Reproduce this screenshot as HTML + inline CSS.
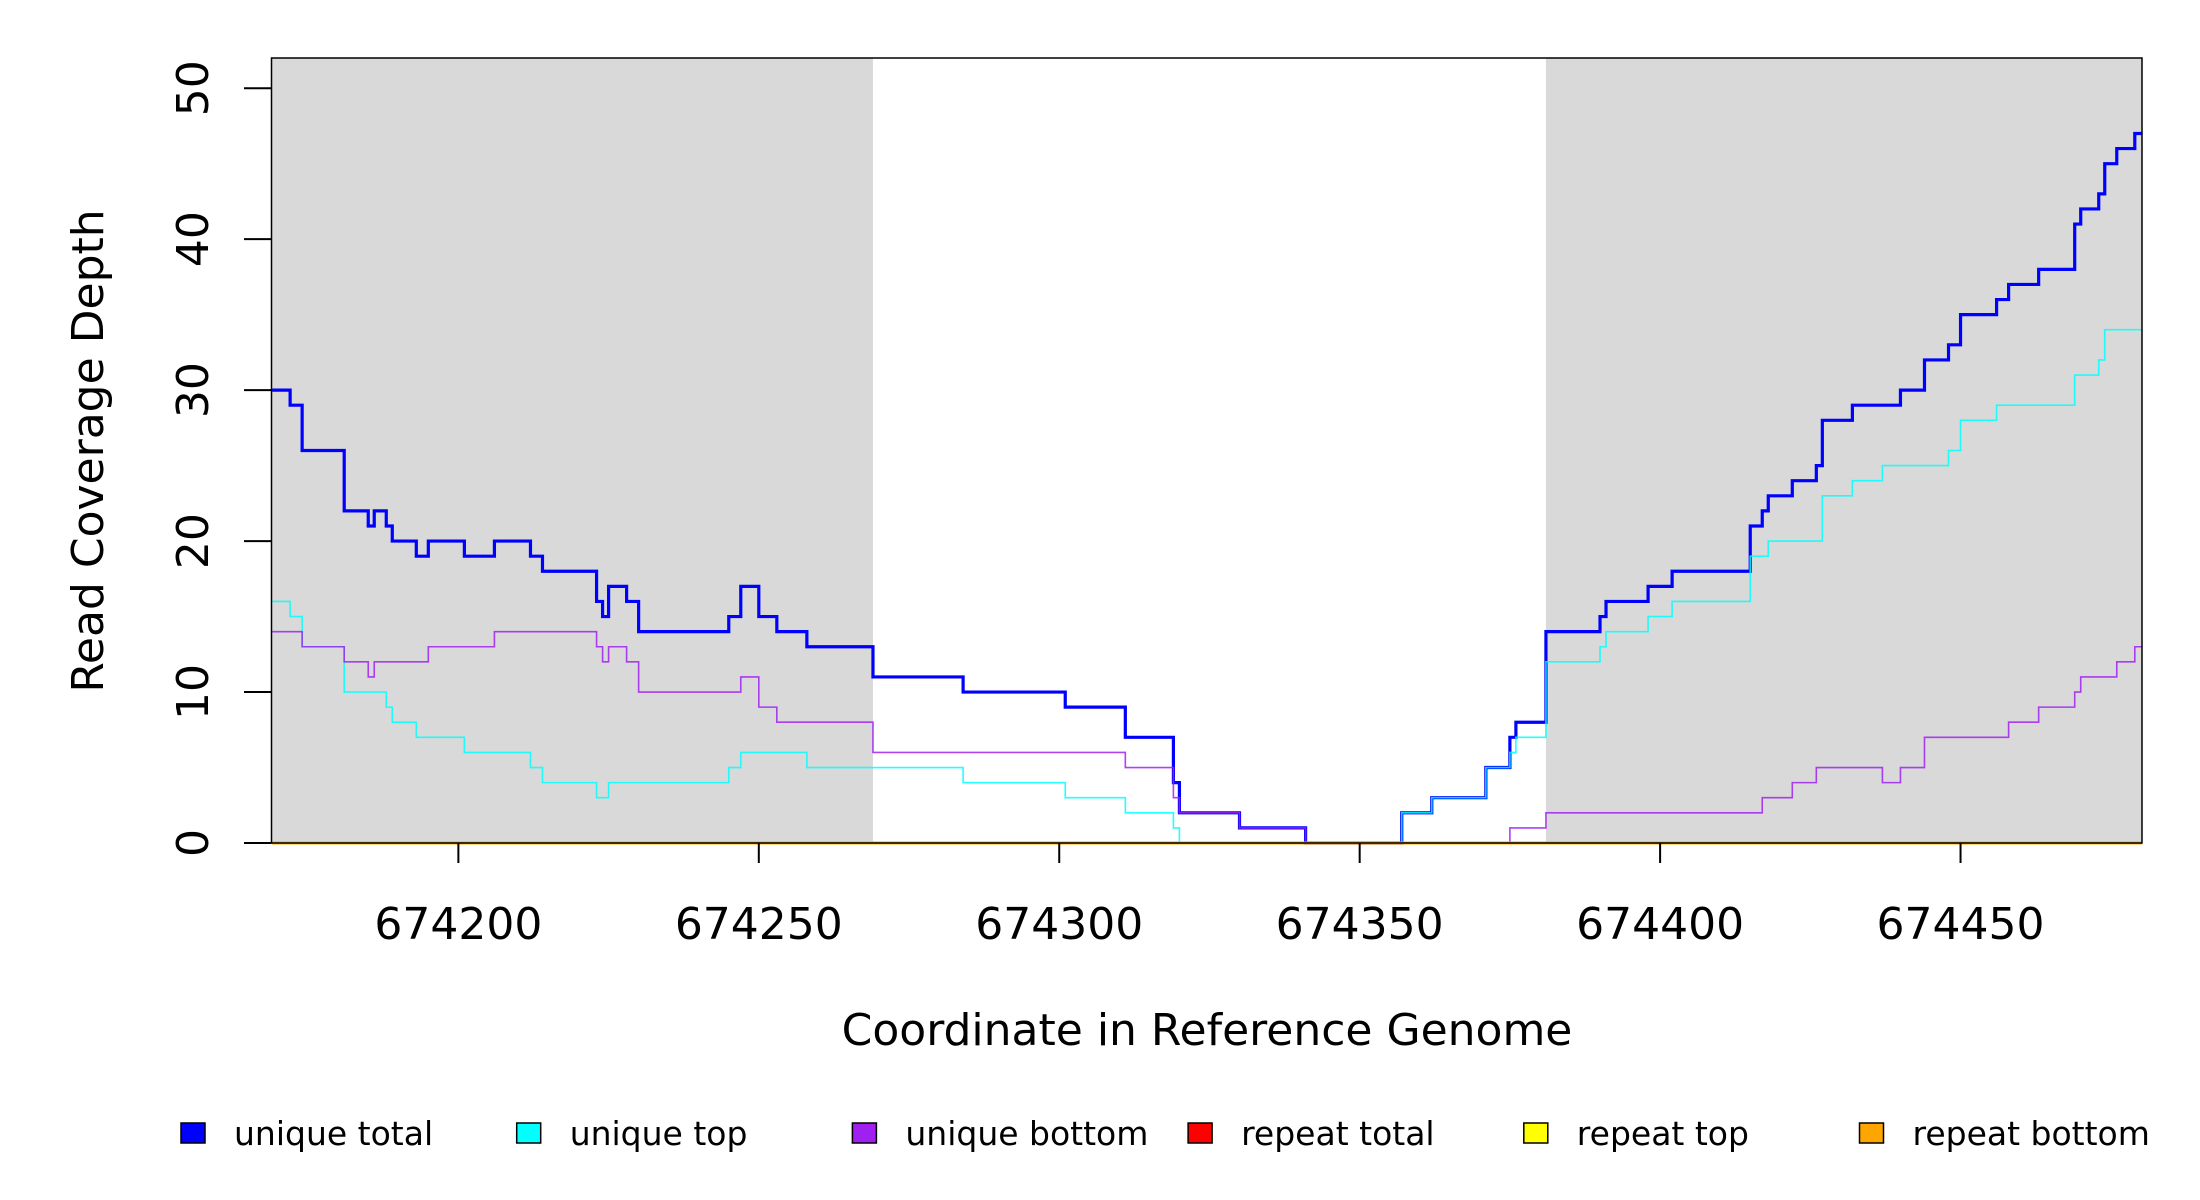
<!DOCTYPE html>
<html><head><meta charset="utf-8"><style>
html,body{margin:0;padding:0;background:#fff;}
svg{display:block;font-family:"DejaVu Sans","Liberation Sans",sans-serif;}
</style></head><body>
<svg id="chart" width="2200" height="1200" viewBox="0 0 2200 1200" xmlns="http://www.w3.org/2000/svg">
<rect x="0" y="0" width="2200" height="1200" fill="#fff"/>
<g id="shade"></g>
<g id="series"></g>
<rect x="271.5" y="58" width="1870.5" height="785" fill="none" stroke="#000" stroke-width="1.5"/>
<g id="xaxis"></g>
<g id="yaxis"></g>
<text x="1207" y="1045" font-size="44" text-anchor="middle">Coordinate in Reference Genome</text>
<text transform="translate(103,451) rotate(-90)" font-size="44" text-anchor="middle">Read Coverage Depth</text>
<g id="legend"></g>
</svg>
<script>
const xDomain = [674168.9, 674480.2];
const yDomain = [0, 52];
const shadeRegions = [[674168.9, 674269], [674381, 674480.2]];
const xTicks = [674200, 674250, 674300, 674350, 674400, 674450];
const yTicks = [0, 10, 20, 30, 40, 50];
const uniqueTotal = [[674169,30],[674172,29],[674174,26],[674181,22],[674185,21],[674186,22],[674188,21],[674189,20],[674193,19],[674195,20],[674201,19],[674206,20],[674212,19],[674214,18],[674223,16],[674224,15],[674225,17],[674228,16],[674230,14],[674245,15],[674247,17],[674250,15],[674253,14],[674258,13],[674269,11],[674284,10],[674301,9],[674311,7],[674319,4],[674320,2],[674330,1],[674341,0],[674357,2],[674362,3],[674371,5],[674375,7],[674376,8],[674381,14],[674390,15],[674391,16],[674398,17],[674402,18],[674415,21],[674417,22],[674418,23],[674422,24],[674426,25],[674427,28],[674432,29],[674440,30],[674444,32],[674448,33],[674450,35],[674456,36],[674458,37],[674463,38],[674469,41],[674470,42],[674473,43],[674474,45],[674476,46],[674479,47],[674480.2,47]];
const uniqueTop = [[674169,16],[674172,15],[674174,13],[674181,10],[674188,9],[674189,8],[674193,7],[674201,6],[674212,5],[674214,4],[674223,3],[674225,4],[674245,5],[674247,6],[674258,5],[674284,4],[674301,3],[674311,2],[674319,1],[674320,0],[674357,2],[674362,3],[674371,5],[674375,6],[674376,7],[674381,12],[674390,13],[674391,14],[674398,15],[674402,16],[674415,19],[674418,20],[674427,23],[674432,24],[674437,25],[674448,26],[674450,28],[674456,29],[674469,31],[674473,32],[674474,34],[674480.2,34]];
const uniqueBottom = [[674169,14],[674174,13],[674181,12],[674185,11],[674186,12],[674195,13],[674206,14],[674223,13],[674224,12],[674225,13],[674228,12],[674230,10],[674247,11],[674250,9],[674253,8],[674269,6],[674311,5],[674319,3],[674320,2],[674330,1],[674341,0],[674375,1],[674381,2],[674417,3],[674422,4],[674426,5],[674437,4],[674440,5],[674444,7],[674458,8],[674463,9],[674469,10],[674470,11],[674476,12],[674479,13],[674480.2,13]];
const repeatTotal = [[674169,0],[674480.2,0]];
const repeatTop = [[674169,0],[674480.2,0]];
const repeatBottom = [[674169,0],[674480.2,0]];
const legendLabels = ["unique total","unique top","unique bottom","repeat total","repeat top","repeat bottom"];
const legendColors = ["#0000ff","#00ffff","#a020f0","#ff0000","#ffff00","#ffa500"];

const PX0 = 271.5, PX1 = 2142, PY0 = 843, PY1 = 58;
function sx(v){ return PX0 + (v - xDomain[0]) / (xDomain[1] - xDomain[0]) * (PX1 - PX0); }
function sy(v){ return PY0 - (v - yDomain[0]) / (yDomain[1] - yDomain[0]) * (PY0 - PY1); }
const NS = "http://www.w3.org/2000/svg";
function mk(tag, attrs, parent){ const e = document.createElementNS(NS, tag); for (const k in attrs) e.setAttribute(k, attrs[k]); parent.appendChild(e); return e; }

const shade = document.getElementById('shade');
shadeRegions.forEach(function(r){
  const e = mk('rect', {x: sx(r[0]), y: PY1, width: sx(r[1]) - sx(r[0]), height: PY0 - PY1, fill: '#d9d9d9'}, shade);
  
  
});

const seriesG = document.getElementById('series');
function stepPath(d){
  let p = 'M' + sx(d[0][0]) + ',' + sy(d[0][1]);
  for (let i = 1; i < d.length; i++){
    p += ' H' + sx(d[i][0]) + ' V' + sy(d[i][1]);
  }
  return p;
}
const seriesList = [
  [uniqueTotal, legendColors[0], 3.2, 'unique-total-line', 1],
  [uniqueTop, legendColors[1], 1.6, 'unique-top-line', 0.85],
  [uniqueBottom, legendColors[2], 1.6, 'unique-bottom-line', 0.85],
  [repeatTotal, legendColors[3], 2, 'repeat-total-line', 1],
  [repeatTop, legendColors[4], 2, 'repeat-top-line', 1],
  [repeatBottom, legendColors[5], 3, 'repeat-bottom-line', 1]
];
seriesList.forEach(function(s){
  const e = mk('path', {d: stepPath(s[0]), fill: 'none', stroke: s[1], 'stroke-width': s[2], opacity: s[4]}, seriesG);
  
  
});

const xa = document.getElementById('xaxis');
xTicks.forEach(function(t){
  const l = mk('line', {x1: sx(t), x2: sx(t), y1: PY0, y2: PY0 + 20, stroke: '#000', 'stroke-width': 2}, xa);
  
  
  const tx = mk('text', {x: sx(t), y: 939, 'font-size': 44, 'text-anchor': 'middle'}, xa);
  tx.textContent = t;
  
  
});
const ya = document.getElementById('yaxis');
yTicks.forEach(function(t){
  const l = mk('line', {x1: 244, x2: PX0, y1: sy(t), y2: sy(t), stroke: '#000', 'stroke-width': 2}, ya);
  
  
  const tx = mk('text', {transform: 'translate(208,' + sy(t) + ') rotate(-90)', 'font-size': 44, 'text-anchor': 'middle'}, ya);
  tx.textContent = t;
  
  
});

const lg = document.getElementById('legend');
legendLabels.forEach(function(lab, i){
  const x0 = 181 + i * 335.7;
  const r = mk('rect', {x: x0, y: 1123, width: 24, height: 20, fill: legendColors[i], stroke: '#000', 'stroke-width': 1.5}, lg);
  
  
  const tx = mk('text', {x: x0 + 53, y: 1145, 'font-size': 33}, lg);
  tx.textContent = lab;
  
  
});
</script>
</body></html>
